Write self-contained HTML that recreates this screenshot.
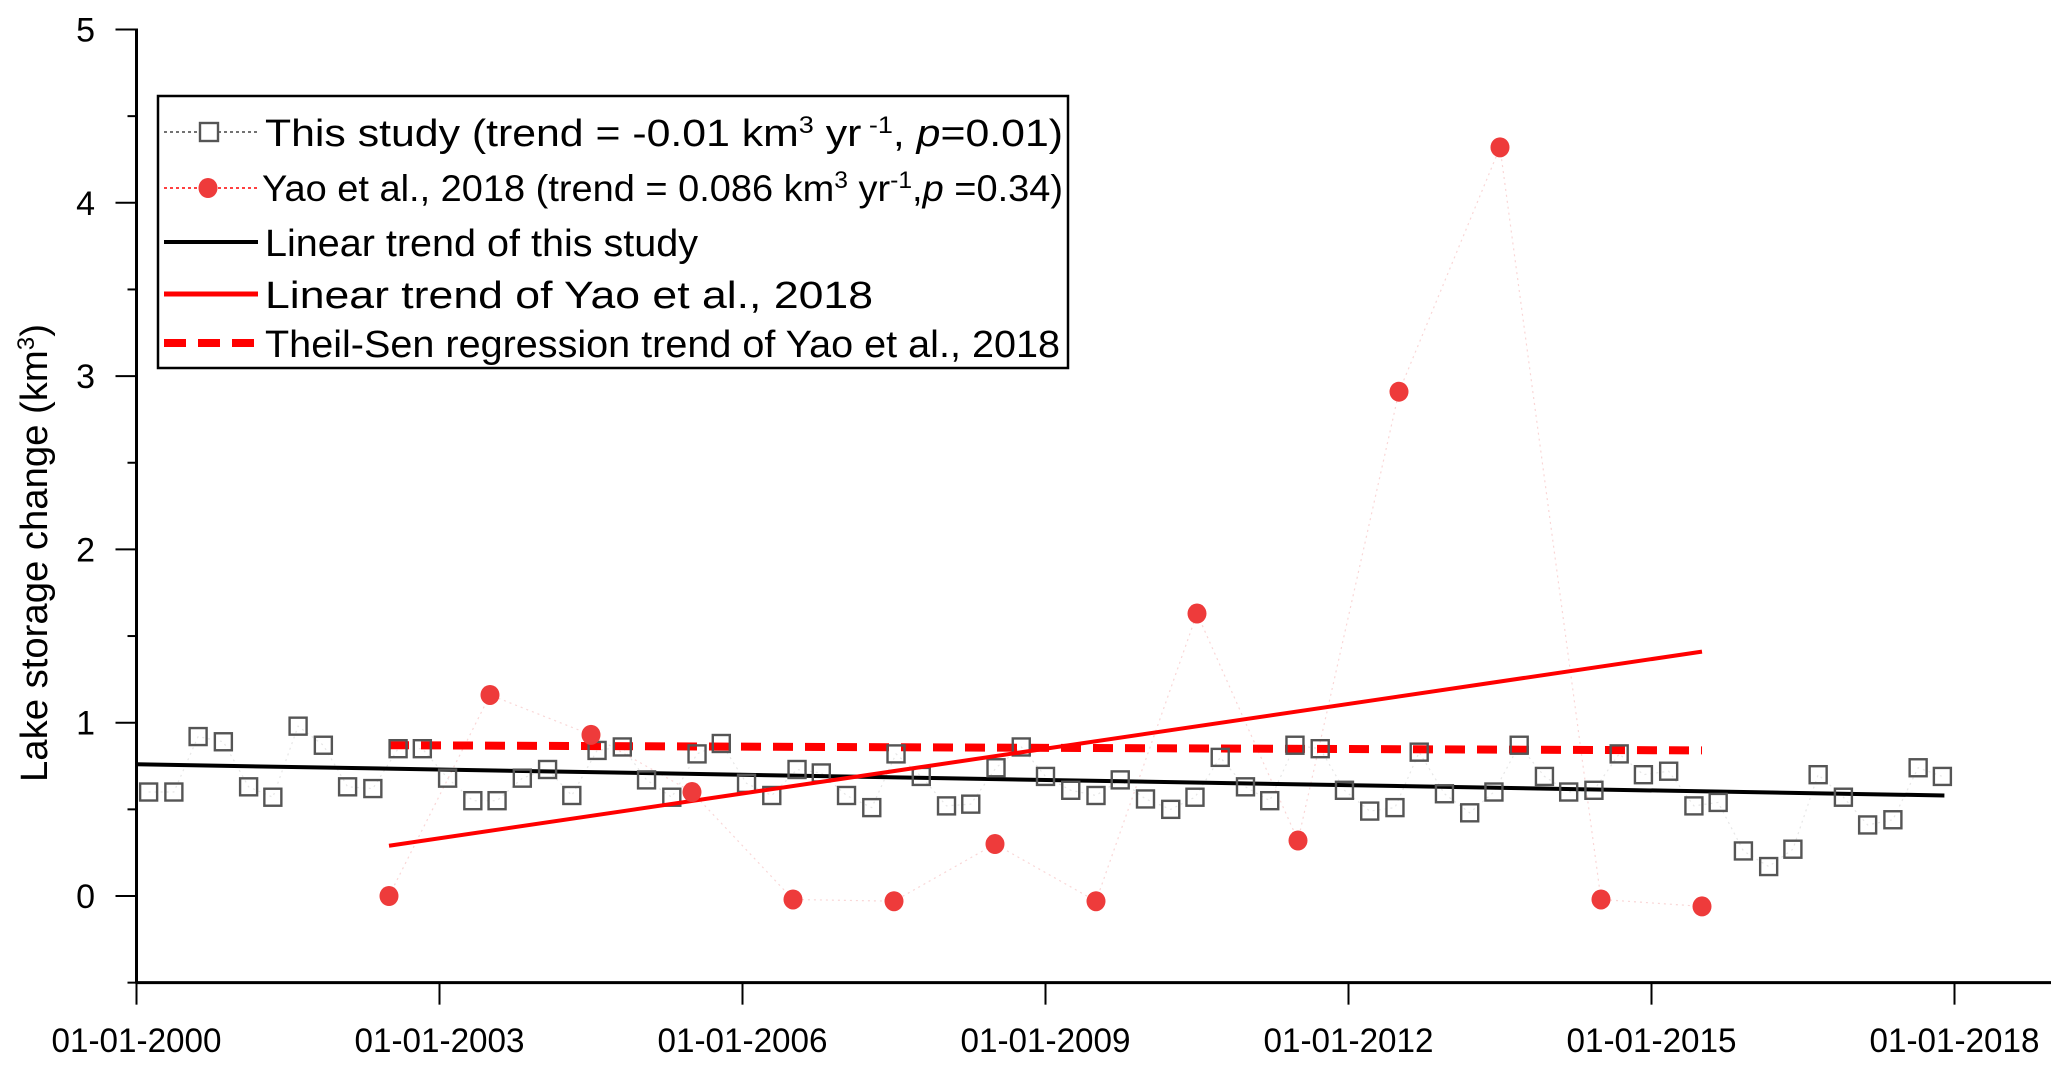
<!DOCTYPE html>
<html><head><meta charset="utf-8"><style>
html,body{margin:0;padding:0;background:#fff;}
svg{display:block;font-family:"Liberation Sans",Arial,sans-serif;}
</style></head><body>
<svg id="chart" width="2067" height="1070" viewBox="0 0 2067 1070" xmlns="http://www.w3.org/2000/svg">
<g id="axes"></g>
<g id="series"></g>
<g id="legend"></g>
</svg>
<script>
const studyYears=[0.12,0.37,0.61,0.86,1.11,1.35,1.60,1.85,2.09,2.34,2.59,2.83,3.08,3.33,3.57,3.82,4.07,4.31,4.56,4.81,5.05,5.30,5.55,5.79,6.04,6.29,6.54,6.78,7.03,7.28,7.52,7.77,8.02,8.26,8.51,8.76,9.00,9.25,9.50,9.74,9.99,10.24,10.48,10.73,10.98,11.22,11.47,11.72,11.96,12.21,12.46,12.70,12.95,13.20,13.44,13.69,13.94,14.18,14.43,14.68,14.92,15.17,15.42,15.66,15.91,16.16,16.40,16.65,16.90,17.14,17.39,17.64,17.88];
const studyValues=[0.6,0.6,0.92,0.89,0.63,0.57,0.98,0.87,0.63,0.62,0.85,0.85,0.68,0.55,0.55,0.68,0.73,0.58,0.84,0.86,0.67,0.57,0.82,0.88,0.65,0.58,0.73,0.71,0.58,0.51,0.82,0.69,0.52,0.53,0.74,0.86,0.69,0.61,0.58,0.67,0.56,0.50,0.57,0.80,0.63,0.55,0.87,0.85,0.61,0.49,0.51,0.83,0.59,0.48,0.60,0.87,0.69,0.60,0.61,0.82,0.70,0.72,0.52,0.54,0.26,0.17,0.27,0.70,0.57,0.41,0.44,0.74,0.69];
const yaoYears=[2.5,3.5,4.5,5.5,6.5,7.5,8.5,9.5,10.5,11.5,12.5,13.5,14.5,15.5];
const yaoValues=[0.0,1.16,0.93,0.6,-0.02,-0.03,0.3,-0.03,1.63,0.32,2.91,4.32,-0.02,-0.06];
const studyTrend=[[0.0,0.76],[17.9,0.58]];
const yaoTrend=[[2.5,0.29],[15.5,1.41]];
const theilSen=[[2.5,0.87],[15.5,0.84]];
const yTicks=[-0.5,0,0.5,1,1.5,2,2.5,3,3.5,4,4.5,5];
const yLabels=[0,1,2,3,4,5];
const xTicks=[0,3,6,9,12,15,18];
const xTickLabels=["01-01-2000","01-01-2003","01-01-2006","01-01-2009","01-01-2012","01-01-2015","01-01-2018"];

const NS="http://www.w3.org/2000/svg";
const X0=136.5, XR=2051, Y0=896, PXY=101, PXV=173.3;
const sx=t=>X0+t*PXY;
const sy=v=>Y0-v*PXV;
function mk(parent,tag,attrs,txt){const e=document.createElementNS(NS,tag);for(const k in attrs)e.setAttribute(k,attrs[k]);if(txt!=null)e.textContent=txt;parent.appendChild(e);return e;}
const axes=document.getElementById('axes'),series=document.getElementById('series'),legend=document.getElementById('legend');

let a=mk(axes,'line',{x1:X0,y1:sy(5)-1,x2:X0,y2:sy(-0.5)+1,stroke:'#000','stroke-width':3});


a=mk(axes,'line',{x1:X0-1,y1:sy(-0.5),x2:XR,y2:sy(-0.5),stroke:'#000','stroke-width':3});


yTicks.forEach(v=>{const major=Number.isInteger(v);
 const t=mk(axes,'line',{x1:X0-(major?21:9),y1:sy(v),x2:X0,y2:sy(v),stroke:'#000','stroke-width':2});
 
 });
yLabels.forEach(v=>{const t=mk(axes,'text',{x:95,y:sy(v)+12,'text-anchor':'end','font-size':34},String(v));
 
 });
xTicks.forEach((v,i)=>{const t=mk(axes,'line',{x1:sx(v),y1:sy(-0.5),x2:sx(v),y2:sy(-0.5)+22,stroke:'#000','stroke-width':2});
 
 
 const l=mk(axes,'text',{x:sx(v),y:1052,'text-anchor':'middle','font-size':34,textLength:170,lengthAdjust:'spacingAndGlyphs'},xTickLabels[i]);
 
 });
const yt=mk(axes,'text',{x:0,y:0,'text-anchor':'middle','font-size':38,transform:'translate(47,553) rotate(-90)',textLength:458,lengthAdjust:'spacingAndGlyphs'});


yt.appendChild(document.createTextNode('Lake storage change (km'));
mk(yt,'tspan',{'baseline-shift':'super','font-size':24},'3');
yt.appendChild(document.createTextNode(')'));

let p=mk(series,'polyline',{points:studyYears.map((t,i)=>sx(t)+','+sy(studyValues[i])).join(' '),fill:'none',stroke:'#e6e6e6','stroke-width':1.2,'stroke-dasharray':'2 4'});


p=mk(series,'polyline',{points:yaoYears.map((t,i)=>sx(t)+','+sy(yaoValues[i])).join(' '),fill:'none',stroke:'#f9d6d6','stroke-width':1.2,'stroke-dasharray':'2 4'});



p=mk(series,'line',{x1:sx(theilSen[0][0]),y1:sy(theilSen[0][1]),x2:sx(theilSen[1][0]),y2:sy(theilSen[1][1]),stroke:'#f00','stroke-width':8,'stroke-dasharray':'20 12'});


p=mk(series,'line',{x1:sx(studyTrend[0][0]),y1:sy(studyTrend[0][1]),x2:sx(studyTrend[1][0]),y2:sy(studyTrend[1][1]),stroke:'#000','stroke-width':4});



studyYears.forEach((t,i)=>{const r=mk(series,'rect',{x:sx(t)-8.5,y:sy(studyValues[i])-8.5,width:17,height:17,fill:'none',stroke:'#555','stroke-width':2.4});
 
 });
p=mk(series,'line',{x1:sx(yaoTrend[0][0]),y1:sy(yaoTrend[0][1]),x2:sx(yaoTrend[1][0]),y2:sy(yaoTrend[1][1]),stroke:'#f00','stroke-width':4});


yaoYears.forEach((t,i)=>{const c=mk(series,'ellipse',{cx:sx(t),cy:sy(yaoValues[i]),rx:9.5,ry:10,fill:'#ee3b3b'});
 
 });

let b=mk(legend,'rect',{x:158,y:96,width:910,height:272,fill:'#fff',stroke:'#000','stroke-width':2.5});


const rows=[132,188,242,294,343];
function txt(y,w){return mk(legend,'text',{x:265,y:y+14,'font-size':38,textLength:w,lengthAdjust:'spacingAndGlyphs'});}
let g=mk(legend,'line',{x1:164,y1:rows[0],x2:258,y2:rows[0],stroke:'#444','stroke-width':1.5,'stroke-dasharray':'3 3'});


mk(legend,'rect',{x:200,y:rows[0]-9,width:18,height:18,fill:'#fff',stroke:'#555','stroke-width':2.4});
let t=txt(rows[0],798);


t.appendChild(document.createTextNode('This study (trend = -0.01 km'));
mk(t,'tspan',{'baseline-shift':'super','font-size':24},'3');
t.appendChild(document.createTextNode(' yr'));
mk(t,'tspan',{'baseline-shift':'super','font-size':24},' -1');
t.appendChild(document.createTextNode(', '));
mk(t,'tspan',{'font-style':'italic'},'p');
t.appendChild(document.createTextNode('=0.01)'));
g=mk(legend,'line',{x1:164,y1:rows[1],x2:258,y2:rows[1],stroke:'#f00','stroke-width':1.5,'stroke-dasharray':'3 3'});


mk(legend,'ellipse',{cx:208,cy:rows[1],rx:9.5,ry:10,fill:'#ee3b3b'});
t=mk(legend,'text',{x:262,y:rows[1]+13,'font-size':37,textLength:801,lengthAdjust:'spacingAndGlyphs'});


t.appendChild(document.createTextNode('Yao et al., 2018 (trend = 0.086 km'));
mk(t,'tspan',{'baseline-shift':'super','font-size':24},'3');
t.appendChild(document.createTextNode(' yr'));
mk(t,'tspan',{'baseline-shift':'super','font-size':24},'-1');
t.appendChild(document.createTextNode(','));
mk(t,'tspan',{'font-style':'italic'},'p');
t.appendChild(document.createTextNode(' =0.34)'));
g=mk(legend,'line',{x1:164,y1:rows[2],x2:258,y2:rows[2],stroke:'#000','stroke-width':4});


t=txt(rows[2],433);t.textContent='Linear trend of this study';


g=mk(legend,'line',{x1:164,y1:rows[3],x2:258,y2:rows[3],stroke:'#f00','stroke-width':5});


t=txt(rows[3],608);t.textContent='Linear trend of Yao et al., 2018';


g=mk(legend,'line',{x1:164,y1:rows[4],x2:258,y2:rows[4],stroke:'#f00','stroke-width':8,'stroke-dasharray':'22 12'});


t=txt(rows[4],795);t.textContent='Theil-Sen regression trend of Yao et al., 2018';


</script>
</body></html>
